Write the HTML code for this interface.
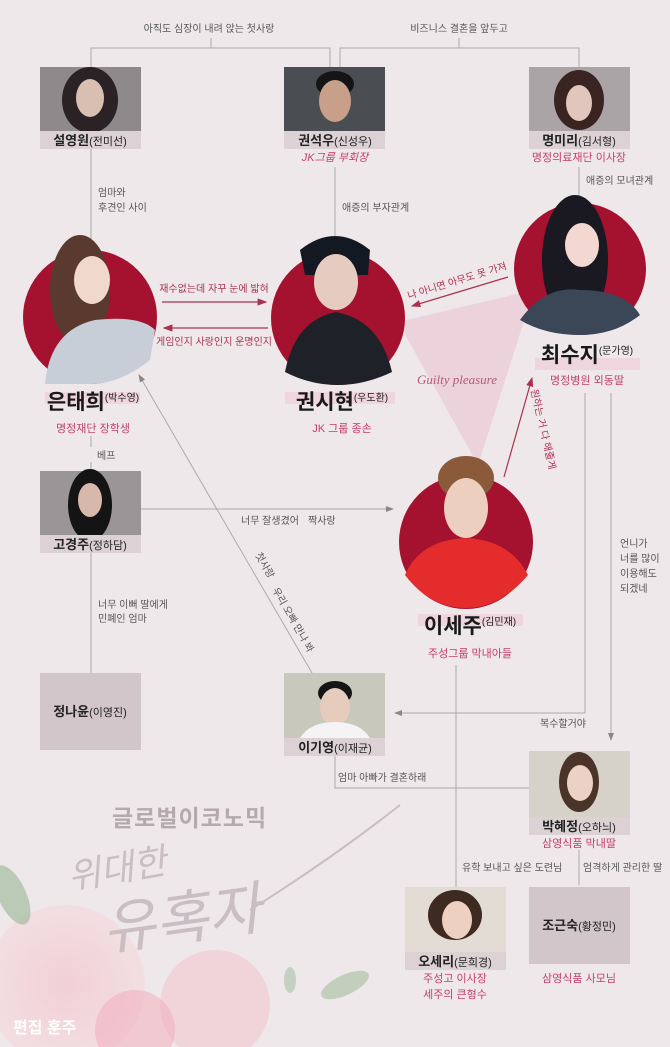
<!DOCTYPE html>
<html><head><meta charset="utf-8"><style>
html,body{margin:0;padding:0;background:#efe8ea;}
svg{display:block;font-family:"Liberation Sans","Noto Sans CJK KR",sans-serif;}
.s{font-size:10px;fill:#333;}
.p{font-size:11px;fill:#c2406c;}
.n{font-size:13px;font-weight:bold;fill:#222;}
.a{font-size:10px;fill:#555;}
.big{font-size:21px;font-weight:bold;fill:#1a1a1a;}
.sm{font-size:11px;fill:#333;}
</style></head><body>
<svg width="670" height="1047" viewBox="0 0 670 1047" xmlns="http://www.w3.org/2000/svg">
<defs>
<marker id="ag" markerWidth="8" markerHeight="8" refX="7" refY="4" orient="auto"><path d="M0,1 L8,4 L0,7 z" fill="#888"/></marker>
<marker id="ar" markerWidth="8" markerHeight="8" refX="7" refY="4" orient="auto"><path d="M0,1 L8,4 L0,7 z" fill="#a8324f"/></marker>
<radialGradient id="rose" cx="50%" cy="50%" r="50%"><stop offset="0" stop-color="#f2c2cc"/><stop offset="1" stop-color="#f4dade"/></radialGradient>
</defs>
<rect width="670" height="1047" fill="#efe8ea"/>

<!-- decorative bottom-left -->
<circle cx="65" cy="985" r="80" fill="url(#rose)" opacity="0.65"/>
<circle cx="215" cy="1005" r="55" fill="#f3bfca" opacity="0.5"/>
<circle cx="135" cy="1030" r="40" fill="#f1a9b8" opacity="0.5"/>
<ellipse cx="12" cy="895" rx="14" ry="32" fill="#8fb08a" opacity="0.55" transform="rotate(-25 12 895)"/>
<ellipse cx="345" cy="985" rx="26" ry="10" fill="#9bb996" opacity="0.55" transform="rotate(-25 345 985)"/>
<ellipse cx="290" cy="980" rx="6" ry="13" fill="#9bb996" opacity="0.5"/>
<text x="112" y="826" font-size="23" font-weight="bold" fill="#b3a9ae" letter-spacing="1">글로벌이코노믹</text>
<text x="70" y="890" font-size="36" fill="#c9bec3" font-style="italic" transform="rotate(-10 70 890)">위대한</text>
<text x="105" y="950" font-size="58" fill="#c9bec3" font-style="italic" transform="rotate(-8 105 950)">유혹자</text>
<path d="M250,910 Q330,860 400,805" stroke="#c9bec3" stroke-width="2" fill="none"/>
<text x="13" y="1033" font-size="16" font-weight="bold" fill="#fff">편집 훈주</text>

<!-- top brackets -->
<text x="209" y="32" text-anchor="middle" class="a">아직도 심장이 내려 앉는 첫사랑</text>
<text x="459" y="32" text-anchor="middle" class="a">비즈니스 결혼을 앞두고</text>
<g stroke="#aaa" stroke-width="1" fill="none">
<path d="M211,38 V48 M91,67 V48 H330 V67"/>
<path d="M459,38 V48 M340,67 V48 H579 V67"/>
<path d="M91,149 V252"/>
<path d="M335,167 V250"/>
<path d="M579,167 V203"/>
<path d="M91,436 V447 M91,462 V471"/>
<path d="M91,553 V673"/>
<path d="M585,393 V713 H395" marker-end="url(#ag)"/>
<path d="M611,393 V740" marker-end="url(#ag)"/>
<path d="M141,509 H393" marker-end="url(#ag)"/>
<path d="M312,673 L139,375" marker-end="url(#ag)"/>
<path d="M456,665 V887"/>
<path d="M335,756 V788 H529"/>
<path d="M579,850 V885"/>
</g>

<!-- labels on lines -->
<text x="98" y="196" class="a">엄마와</text>
<text x="98" y="211" class="a">후견인 사이</text>
<text x="342" y="211" class="a">애증의 부자관계</text>
<text x="586" y="184" class="a">애증의 모녀관계</text>
<text x="97" y="459" class="a" font-size="9">베프</text>
<text x="241" y="524" class="a" font-size="8">너무 잘생겼어</text>
<text x="308" y="524" class="a">짝사랑</text>
<text x="98" y="608" class="a">너무 이뻐 딸에게</text>
<text x="98" y="622" class="a">민폐인 엄마</text>
<text x="255" y="555" class="a" transform="rotate(60 255 555)">첫사랑</text>
<text x="272" y="590" class="a" font-size="8" transform="rotate(60 272 590)">우리 오빠 만나 봐</text>
<text x="620" y="547" class="a" font-size="9">언니가</text>
<text x="620" y="562" class="a" font-size="9">너를 많이</text>
<text x="620" y="577" class="a" font-size="9">이용해도</text>
<text x="620" y="592" class="a" font-size="9">되겠네</text>
<text x="540" y="727" class="a" font-size="8">복수할거야</text>
<text x="338" y="781" class="a" font-size="8">엄마 아빠가 결혼하래</text>
<text x="462" y="871" class="a">유학 보내고 싶은 도련님</text>
<text x="583" y="871" class="a">엄격하게 관리한 딸</text>

<!-- guilty pleasure triangle -->
<polygon points="398,322 534,290 478,465" fill="#e8b8ca" opacity="0.45"/>
<text x="457" y="384" text-anchor="middle" font-family="Liberation Serif,serif" font-style="italic" font-size="13" fill="#b5587c">Guilty pleasure</text>

<!-- red arrows -->
<g stroke="#a8324f" stroke-width="1.2" fill="none">
<path d="M162,302 H266" marker-end="url(#ar)"/>
<path d="M268,328 H164" marker-end="url(#ar)"/>
<path d="M508,277 L412,306" marker-end="url(#ar)"/>
<path d="M504,477 L532,378" marker-end="url(#ar)"/>
</g>
<text x="214" y="292" text-anchor="middle" font-size="10" fill="#a8324f">재수없는데 자꾸 눈에 밟혀</text>
<text x="214" y="345" text-anchor="middle" font-size="10" fill="#a8324f">게임인지 사랑인지 운명인지</text>
<text x="458" y="284" text-anchor="middle" font-size="10" fill="#a8324f" transform="rotate(-17 458 284)">나 아니면 아무도 못 가져</text>
<text x="540" y="430" text-anchor="middle" font-size="10" fill="#a8324f" transform="rotate(77 540 430)">원하는 거 다 해줄게</text>

<!-- top photo boxes -->
<g>
<rect x="40" y="67" width="101" height="64" fill="#8e8a8c"/>
<ellipse cx="90" cy="100" rx="28" ry="33" fill="#2a2224"/>
<ellipse cx="90" cy="98" rx="14" ry="19" fill="#d8bfb2"/>
<rect x="40" y="131" width="101" height="18" fill="#dcd2d6"/>
<text x="90" y="145" text-anchor="middle" class="n">설영원<tspan font-weight="normal" font-size="11">(전미선)</tspan></text>

<rect x="284" y="67" width="101" height="64" fill="#4a4d52"/>
<ellipse cx="335" cy="84" rx="19" ry="13" fill="#151515"/>
<ellipse cx="335" cy="101" rx="16" ry="21" fill="#c89f88"/>
<rect x="284" y="131" width="101" height="18" fill="#dcd2d6"/>
<text x="335" y="145" text-anchor="middle" class="n">권석우<tspan font-weight="normal" font-size="11">(신성우)</tspan></text>
<text x="335" y="161" text-anchor="middle" class="p" font-style="italic">JK그룹 부회장</text>

<rect x="529" y="67" width="101" height="64" fill="#aaa4a6"/>
<ellipse cx="579" cy="100" rx="25" ry="30" fill="#3a2422"/>
<ellipse cx="579" cy="103" rx="13" ry="18" fill="#e0c6bc"/>
<rect x="529" y="131" width="101" height="18" fill="#dcd2d6"/>
<text x="579" y="145" text-anchor="middle" class="n">명미리<tspan font-weight="normal" font-size="11">(김서형)</tspan></text>
<text x="579" y="161" text-anchor="middle" class="p">명정의료재단 이사장</text>
</g>

<!-- main circles -->
<g>
<circle cx="90" cy="317" r="67" fill="#a5122f"/>
<ellipse cx="80" cy="290" rx="30" ry="55" fill="#5a3a2e"/>
<ellipse cx="92" cy="280" rx="18" ry="24" fill="#f0d8cc"/>
<path d="M45,384 Q50,330 95,320 Q140,315 155,330 L150,360 Q120,384 90,384 Z" fill="#c8ced8"/>
<rect x="45" y="392" width="95" height="12" fill="#eec8d4" opacity="0.6"/>
<text x="93" y="409" text-anchor="middle" class="big">은태희<tspan font-size="10" font-weight="normal" dy="-8">(박수영)</tspan></text>
<text x="93" y="432" text-anchor="middle" class="p">명정재단 장학생</text>

<circle cx="338" cy="318" r="67" fill="#a5122f"/>
<path d="M300,250 Q335,222 370,250 L368,275 L305,275 Z" fill="#141822"/>
<ellipse cx="336" cy="282" rx="22" ry="28" fill="#e6ccc0"/>
<path d="M285,372 Q295,320 336,312 Q380,320 392,372 Q365,385 338,385 Q310,385 285,372 Z" fill="#1f2128"/>
<rect x="285" y="392" width="110" height="12" fill="#eec8d4" opacity="0.6"/>
<text x="342" y="409" text-anchor="middle" class="big">권시현<tspan font-size="10" font-weight="normal" dy="-8">(우도환)</tspan></text>
<text x="342" y="432" text-anchor="middle" class="p">JK 그룹 종손</text>

<circle cx="580" cy="269" r="66" fill="#a5122f"/>
<ellipse cx="575" cy="260" rx="33" ry="65" fill="#1a1820"/>
<ellipse cx="582" cy="245" rx="17" ry="22" fill="#f2d8d0"/>
<path d="M520,320 Q545,285 580,290 Q625,290 640,315 Q615,335 580,335 Q545,335 520,320 Z" fill="#3b4656"/>
<rect x="535" y="358" width="105" height="12" fill="#eec8d4" opacity="0.6"/>
<text x="587" y="362" text-anchor="middle" class="big">최수지<tspan font-size="10" font-weight="normal" dy="-8">(문가영)</tspan></text>
<text x="587" y="384" text-anchor="middle" class="p">명정병원 외동딸</text>

<circle cx="466" cy="542" r="67" fill="#a5122f"/>
<ellipse cx="466" cy="478" rx="28" ry="22" fill="#8a5a3a"/>
<ellipse cx="466" cy="508" rx="22" ry="30" fill="#edcfbf"/>
<path d="M405,575 Q420,540 466,538 Q510,540 528,575 Q500,608 466,608 Q430,608 405,575 Z" fill="#e42c2c"/>
<rect x="418" y="614" width="105" height="12" fill="#eec8d4" opacity="0.6"/>
<text x="470" y="633" text-anchor="middle" class="big">이세주<tspan font-size="10" font-weight="normal" dy="-8">(김민재)</tspan></text>
<text x="470" y="657" text-anchor="middle" class="p">주성그룹 막내아들</text>
</g>

<!-- other boxes -->
<g>
<rect x="40" y="471" width="101" height="64" fill="#9a9698"/>
<ellipse cx="90" cy="505" rx="22" ry="36" fill="#141414"/>
<ellipse cx="90" cy="500" rx="12" ry="17" fill="#d8b8aa"/>
<rect x="40" y="535" width="101" height="18" fill="#dcd2d6"/>
<text x="90" y="549" text-anchor="middle" class="n">고경주<tspan font-weight="normal" font-size="11">(정하담)</tspan></text>

<rect x="40" y="673" width="101" height="77" fill="#d2c6cb"/>
<text x="90" y="716" text-anchor="middle" class="n">정나윤<tspan font-weight="normal" font-size="11">(이영진)</tspan></text>

<rect x="284" y="673" width="101" height="65" fill="#c8c8bc"/>
<ellipse cx="335" cy="693" rx="17" ry="12" fill="#151515"/>
<ellipse cx="335" cy="707" rx="15" ry="19" fill="#e6ccbc"/>
<path d="M300,738 Q310,722 335,722 Q360,722 370,738 Z" fill="#f4f4f4"/>
<rect x="284" y="738" width="101" height="18" fill="#dcd2d6"/>
<text x="335" y="752" text-anchor="middle" class="n">이기영<tspan font-weight="normal" font-size="11">(이재균)</tspan></text>

<rect x="529" y="751" width="101" height="66" fill="#d6d2ca"/>
<ellipse cx="579" cy="782" rx="20" ry="30" fill="#4a3328"/>
<ellipse cx="580" cy="783" rx="13" ry="18" fill="#ecd2c6"/>
<rect x="529" y="817" width="101" height="18" fill="#dcd2d6"/>
<text x="579" y="831" text-anchor="middle" class="n">박혜정<tspan font-weight="normal" font-size="11">(오하늬)</tspan></text>
<text x="579" y="847" text-anchor="middle" class="p">삼영식품 막내딸</text>

<rect x="405" y="887" width="101" height="65" fill="#e2dcd4"/>
<ellipse cx="455" cy="915" rx="27" ry="25" fill="#3e2a20"/>
<ellipse cx="457" cy="920" rx="15" ry="19" fill="#edd0c0"/>
<rect x="405" y="952" width="101" height="18" fill="#dcd2d6"/>
<text x="455" y="966" text-anchor="middle" class="n">오세리<tspan font-weight="normal" font-size="11">(문희경)</tspan></text>
<text x="455" y="982" text-anchor="middle" class="p">주성고 이사장</text>
<text x="455" y="998" text-anchor="middle" class="p">세주의 큰형수</text>

<rect x="529" y="887" width="101" height="77" fill="#d2c6cb"/>
<text x="579" y="930" text-anchor="middle" class="n">조근숙<tspan font-weight="normal" font-size="11">(황정민)</tspan></text>
<text x="579" y="982" text-anchor="middle" class="p">삼영식품 사모님</text>
</g>
</svg>
</body></html>
